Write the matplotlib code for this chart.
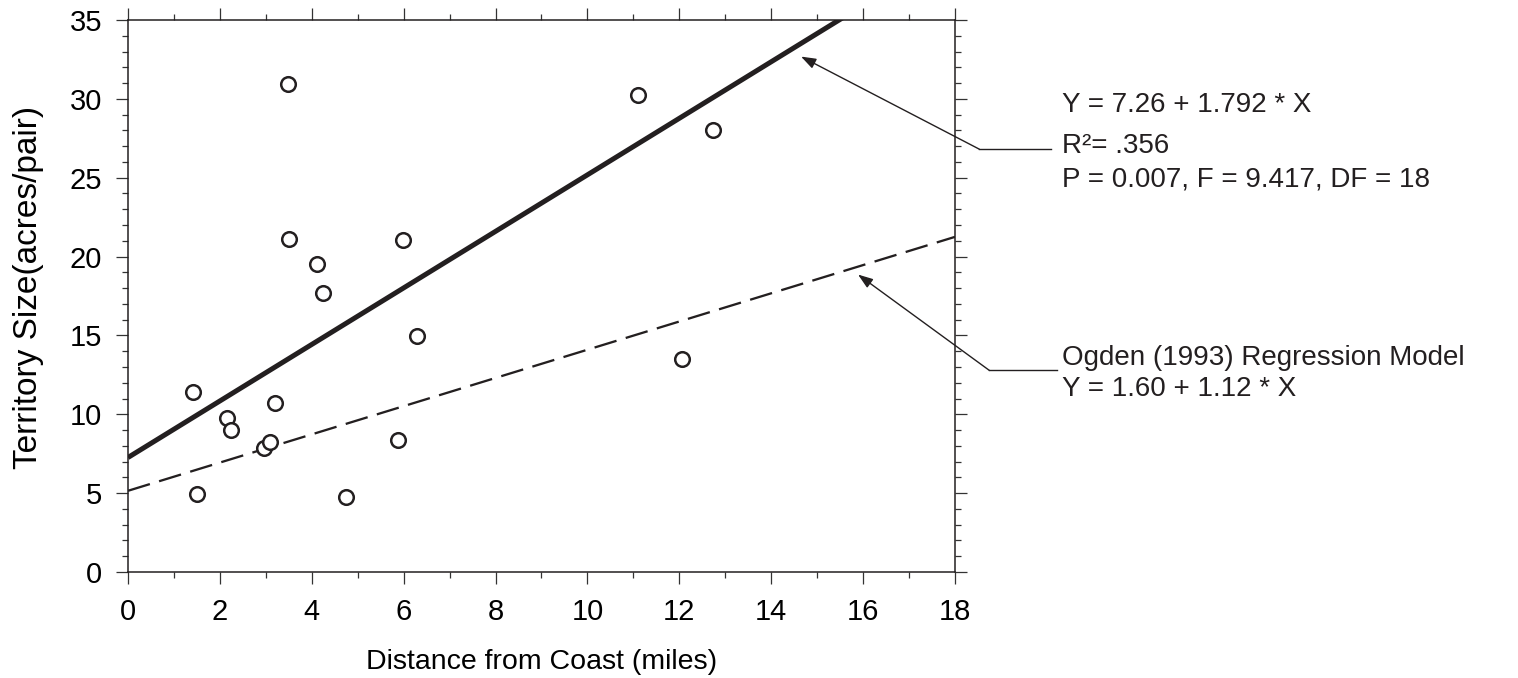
import matplotlib
matplotlib.use("Agg")
import matplotlib.pyplot as plt
from matplotlib.ticker import MultipleLocator

# observed territories
distance = [1.42, 1.50, 2.15, 2.24, 2.97, 3.09, 3.19, 3.48, 3.50,
            4.12, 4.24, 4.74, 5.87, 5.99, 6.30, 11.10, 12.06, 12.73]
territory = [11.40, 4.94, 9.77, 9.01, 7.84, 8.26, 10.72, 30.96, 21.11,
             19.50, 17.67, 4.77, 8.39, 21.04, 14.94, 30.22, 13.50, 28.02]

# fitted regression (this study)
fit_x = [0, 18]
fit_y = [7.26, 39.52]

# Ogden (1993) model line as drawn
ogden_x = [0, 18]
ogden_y = [5.15, 21.25]

fit_text = ["Y = 7.26 + 1.792 * X", "R\u00b2= .356", "P = 0.007, F = 9.417, DF = 18"]
ogden_text = ["Ogden (1993) Regression Model", "Y = 1.60 + 1.12 * X"]

plt.rcParams['font.family'] = ['Liberation Sans', 'DejaVu Sans']
plt.rcParams['font.size'] = 20

ink = '#231f20'

fig = plt.figure(figsize=(15.18, 6.78), dpi=100)
ax = fig.add_axes([0.0843, 0.1563, 0.5448, 0.8142])

ax.plot(fit_x, fit_y, color=ink, lw=3.6, solid_capstyle='butt')
ax.plot(ogden_x, ogden_y, color=ink, lw=1.65, dashes=(10, 4.2))
ax.plot(distance, territory, 'o', ms=10.5, mfc='white', mec=ink, mew=1.8)

ax.set_xlim(0, 18)
ax.set_ylim(0, 35)
ax.xaxis.set_major_locator(MultipleLocator(2))
ax.xaxis.set_minor_locator(MultipleLocator(1))
ax.yaxis.set_major_locator(MultipleLocator(5))
ax.yaxis.set_minor_locator(MultipleLocator(1))
ax.tick_params(which='both', direction='out', top=True, right=True, color='#333333', width=0.9,
               labelsize=21)
ax.tick_params(which='major', length=8.6, pad=10)
ax.tick_params(which='minor', length=4.3)
for s in ax.spines.values():
    s.set_linewidth(1.1)
    s.set_color(ink)

ax.set_xlabel("Distance from Coast (miles)", labelpad=17, fontsize=20.5)
ax.set_ylabel("Territory Size(acres/pair)", fontsize=24)
ax.yaxis.set_label_coords(-0.101, 0.516)

# annotation arrows with horizontal leaders
arrow = dict(arrowstyle='-|>,head_length=0.9,head_width=0.32', color=ink, lw=1.0,
             shrinkA=0, shrinkB=0, mutation_scale=10)
ax.annotate('', xy=(14.65, 32.68), xytext=(18.53, 26.81), arrowprops=arrow, annotation_clip=False)
ax.plot([18.53, 20.1], [26.81, 26.81], color=ink, lw=1.0, clip_on=False)
ax.annotate('', xy=(15.89, 18.86), xytext=(18.75, 12.78), arrowprops=arrow, annotation_clip=False)
ax.plot([18.75, 20.21], [12.78, 12.78], color=ink, lw=1.0, clip_on=False)

for txt, yy in zip(fit_text, [29.6, 27.0, 24.9]):
    ax.text(20.32, yy, txt, ha='left', va='center', color=ink, clip_on=False)
for txt, yy in zip(ogden_text, [13.6, 11.6]):
    ax.text(20.32, yy, txt, ha='left', va='center', color=ink, clip_on=False)

fig.savefig("out.png", dpi=100)
